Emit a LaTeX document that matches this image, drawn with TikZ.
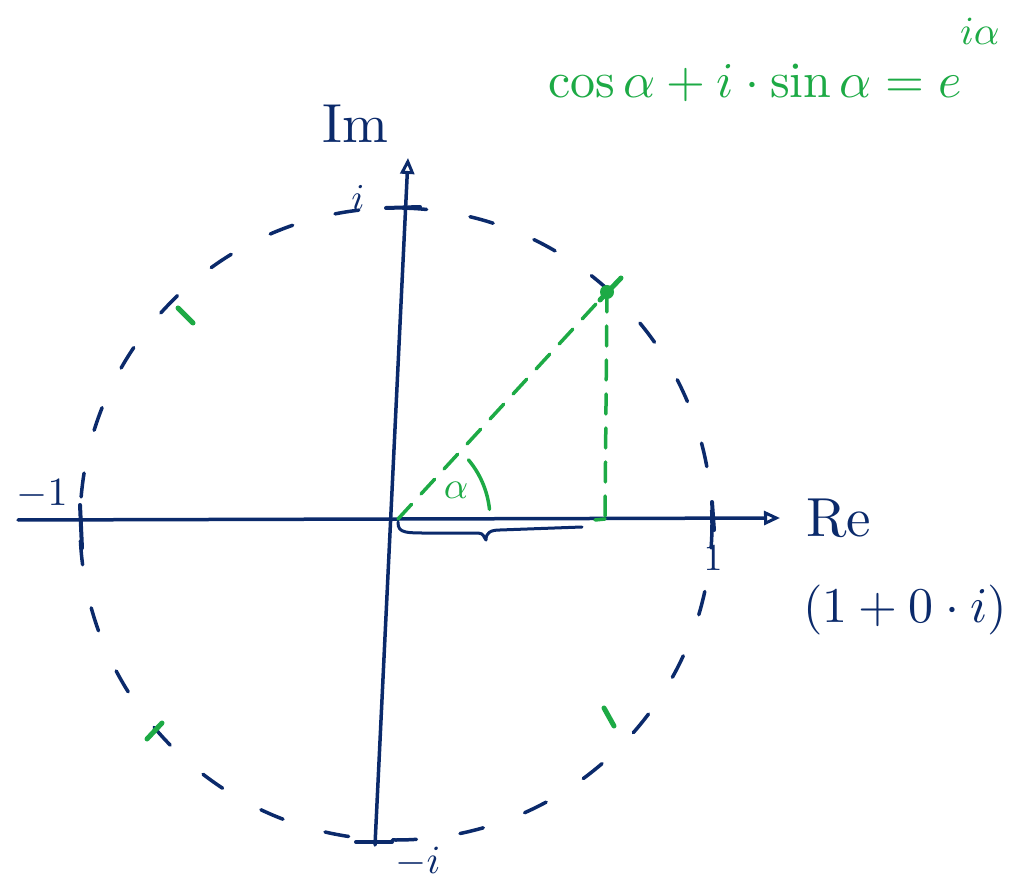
\documentclass[tikz,border=0pt]{standalone}
\usepackage{graphicx}
\usetikzlibrary{arrows.meta}
\definecolor{navy}{HTML}{0B2A6B}
\definecolor{grn}{HTML}{1DAA45}
\newcommand{\hugelab}[2][3.8]{\scalebox{#1}{#2}}
\begin{document}
\begin{tikzpicture}[x=1pt,y=-1pt,line cap=round,line join=round,
  axis/.style={navy,line width=3.5pt},
  tick/.style={navy,line width=4pt},
  circ/.style={navy,line width=3.5pt,dash pattern=on 24pt off 44pt},
  gdash/.style={grn,line width=3.5pt,dash pattern=on 20pt off 14pt},
  gtick/.style={grn,line width=5pt},
  nlab/.style={text=navy,inner sep=0pt},
  glab/.style={text=grn,inner sep=0pt},
  tip/.style={-{Triangle[open,length=16pt,width=14pt,line width=3pt]}}]
\useasboundingbox (0,0) rectangle (1021,885);
% coordinates
\coordinate (O) at (398,519);
\coordinate (C) at (396,524);
\coordinate (xs) at (18,520);
\coordinate (xe) at (780,518);
\coordinate (ys) at (375,845);
\coordinate (ye) at (408,158);
\coordinate (P) at (607,292);
\coordinate (Px) at (605,519);
% circle
\draw[circ] (C) circle (316);
% axes
\draw[axis,tip] (xs) -- (xe);
\draw[axis,tip] (ys) -- (ye);
% ticks
\coordinate (m1a) at (80,505); \coordinate (m1b) at (82,548);
\draw[tick] (m1a) -- (m1b);
\coordinate (p1a) at (712,502); \coordinate (p1b) at (714,530);
\draw[tick] (p1a) -- (p1b);
\coordinate (ia) at (386,208); \coordinate (ib) at (420,207);
\draw[tick] (ia) -- (ib);
\coordinate (mia) at (356,842); \coordinate (mib) at (392,842);
\draw[tick] (mia) -- (mib);
% brace
\coordinate (b1) at (398,522); \coordinate (b2) at (582,527);
\draw[navy,line width=3pt] (b1) .. controls (398,534) and (405,533) .. (440,533)
  -- (478,533) .. controls (484,533) and (484,538) .. (486,540)
  .. controls (486,533) and (490,530) .. (500,530) -- (b2);
% green construction
\draw[gdash] (O) -- (P);
\draw[gdash] (P) -- (Px);
\coordinate (Pxl) at (595,520);
\draw[grn,line width=3.5pt] (Pxl) -- (Px);
\draw[grn,line width=3.5pt] (O) ++(-40:92) arc[start angle=-40,end angle=-6,radius=92];
\coordinate (t45a) at (600,300); \coordinate (t45b) at (621,278);
\draw[gtick] (t45a) -- (t45b);
\fill[grn] (P) circle (7);
\coordinate (t135a) at (178,308); \coordinate (t135b) at (193,323);
\draw[gtick] (t135a) -- (t135b);
\coordinate (t225a) at (147,739); \coordinate (t225b) at (162,723);
\draw[gtick] (t225a) -- (t225b);
\coordinate (t315a) at (604,708); \coordinate (t315b) at (614,726);
\draw[gtick] (t315a) -- (t315b);
% labels
\node[glab] (alpha) at (456,490) {\hugelab{$\alpha$}};
\node[nlab] (Im) at (355,124) {\hugelab[5.5]{Im}};
\node[nlab] (ilab) at (358,198) {\hugelab{$i$}};
\node[nlab] (m1) at (42,494) {\hugelab[4]{$-1$}};
\node[nlab] (p1) at (713,558) {\hugelab{$1$}};
\node[nlab] (mi) at (418,862) {\hugelab[4]{$-i$}};
\node[nlab,anchor=west] (Re) at (806,518) {\hugelab[5.5]{Re}};
\node[nlab] (cplx) at (905,610) {\hugelab[5]{$(1+0\cdot i)$}};
\node[glab,anchor=base west] (euler) at (548,98) {\hugelab[5]{$\cos\alpha + i\cdot\sin\alpha = e$}};
\node[glab,anchor=base west] (eexp) at (960,45) {\hugelab[4]{$i\alpha$}};
\end{tikzpicture}
\end{document}
